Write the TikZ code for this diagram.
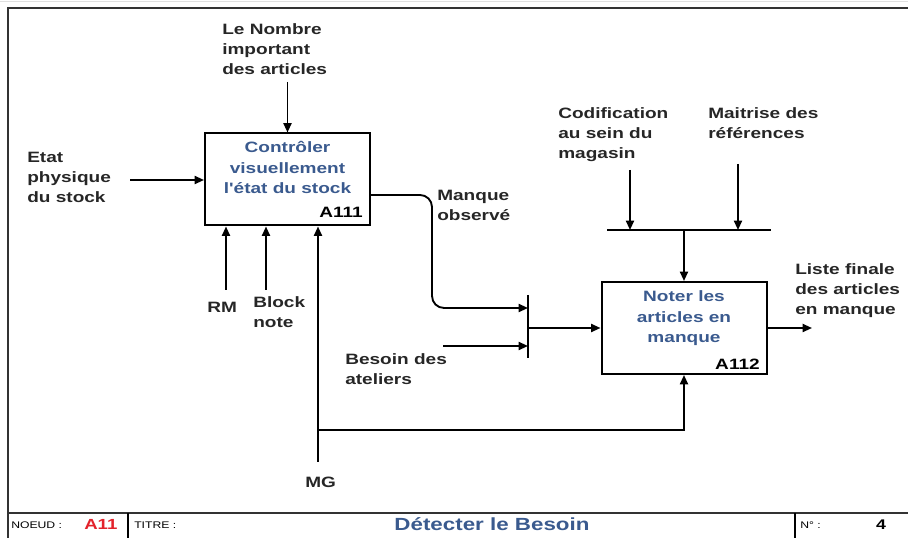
\documentclass[tikz,border=0pt]{standalone}
\usepackage{fontspec}
\setmainfont{Liberation Sans}
\newfontfamily\labfont{Liberation Sans}[FakeStretch=1.27]
\usetikzlibrary{arrows.meta,calc}
\definecolor{boxblue}{HTML}{3A5A8E}
\definecolor{nodered}{HTML}{E3222B}
\begin{document}
\begin{tikzpicture}[x=0.75pt,y=-0.75pt,
  % multi-line labels are placed by the baseline of their last line
  lab/.style={font=\labfont\bfseries\fontsize{11.25}{15}\selectfont, align=left, anchor=base west, inner sep=0pt, text=black!85},
  boxtxt/.style={font=\labfont\bfseries\fontsize{11.25}{15.2}\selectfont, align=center, anchor=base, inner sep=0pt, text=boxblue},
  code/.style={font=\labfont\bfseries\fontsize{11.25}{15}\selectfont, anchor=base east, inner sep=0pt},
  actbox/.style={draw, line width=1.5pt, rectangle, inner sep=0pt, minimum width=123.75pt, minimum height=69pt},
  arr/.style={line width=1.4pt, -{Triangle[length=7pt,width=6pt]}},
  wire/.style={line width=1.4pt},
  frame/.style={line width=1.9pt, black!80},
  tiny/.style={font=\labfont\fontsize{7.2}{8}\selectfont, anchor=base west, inner sep=0pt}]
\useasboundingbox (0,0) rectangle (908,538);

% sheet frame and title block
\draw[black!12, line width=0.8pt] (0,1.5) -- (908,1.5);
\draw[frame] (908,8) -- (8,8) -- (8,538);
\draw[frame] (8,513) -- (908,513);
\draw[line width=1.3pt] (128,513) -- (128,538);
\draw[line width=1.3pt] (795,513) -- (795,538);
\node[tiny] (noeud) at (11,528) {NOEUD :};
\node[font=\labfont\bfseries\fontsize{11}{12}\selectfont, text=nodered, anchor=base west, inner sep=0pt] (num) at (84,529.5) {A11};
\node[tiny] (titre) at (134,528) {TITRE :};
\node[font=\labfont\bfseries\fontsize{13.2}{14}\selectfont, text=boxblue, anchor=base, inner sep=0pt] (title) at (492,530.5) {Détecter le Besoin};
\node[tiny] (numero) at (800,528) {N° :};
\node[font=\labfont\bfseries\fontsize{10.5}{12}\selectfont, anchor=base, inner sep=0pt] (page) at (881,529.5) {4};

% activity boxes
\node[actbox] (a111) at (287.5,179.5) {};
\node[boxtxt] (t111) at (287.5,193.5) {Contrôler\\visuellement\\l'état du stock};
\node[code] (c111) at (363,218) {A111};

\node[actbox] (a112) at (684,328) {};
\node[boxtxt] (t112) at (684,342.5) {Noter les\\articles en\\manque};
\node[code] (c112) at (760,370) {A112};

% labels
\node[lab] (nombre) at (222,75) {Le Nombre\\important\\des articles};
\node[lab] (etat) at (27,203) {Etat\\physique\\du stock};
\node[lab] (rm) at (207,313) {RM};
\node[lab] (block) at (253,328) {Block\\note};
\node[lab] (mg) at (305,488) {MG};
\node[lab] (manque) at (437,221) {Manque\\observé};
\node[lab] (besoin) at (345,385) {Besoin des\\ateliers};
\node[lab] (codif) at (558,159) {Codification\\au sein du\\magasin};
\node[lab] (maitrise) at (708,139) {Maitrise des\\références};
\node[lab] (liste) at (795,315) {Liste finale\\des articles\\en manque};

% free ends of the arrows
\coordinate (nombreS) at (287.5,82);
\coordinate (etatS) at (130,180);
\coordinate (rmS) at (226,290);
\coordinate (blockS) at (266,290);
\coordinate (mgS) at (318,462);
\coordinate (mgJ) at (318,430);
\coordinate (besoinS) at (443,346);
\coordinate (codifS) at (630,170);
\coordinate (maitriseS) at (738,164);
\coordinate (listeE) at (812,328);

% junctions
\coordinate (barT) at (528,295);
\coordinate (barB) at (528,358);
\coordinate (ctlL) at (607,230);
\coordinate (ctlR) at (771,230);

% A111 inputs, controls and mechanisms
\draw[arr] (nombreS) -- (nombreS |- a111.north);
\draw[arr] (etatS) -- (etatS -| a111.west);
\draw[arr] (rmS) -- (rmS |- a111.south);
\draw[arr] (blockS) -- (blockS |- a111.south);
\draw[arr] (mgS) -- (mgS |- a111.south);
\draw[arr] (mgJ) -| (a112.south);

% A111 output joining the A112 input
\draw[wire] (barT) -- (barB);
\draw[arr, rounded corners=9pt] ([yshift=-11.6pt]a111.east) -- (432,195) -- (432,308) -- (528,308);
\draw[arr] (besoinS) -- (besoinS -| barT);
\draw[arr] (barT |- a112.west) -- (a112.west);

% A112 controls
\draw[wire] (ctlL) -- (ctlR);
\draw[arr] (codifS) -- (codifS |- ctlL);
\draw[arr] (maitriseS) -- (maitriseS |- ctlL);
\draw[arr] (ctlL -| a112.north) -- (a112.north);

% A112 output
\draw[arr] (a112.east) -- (listeE);
\end{tikzpicture}
\end{document}
